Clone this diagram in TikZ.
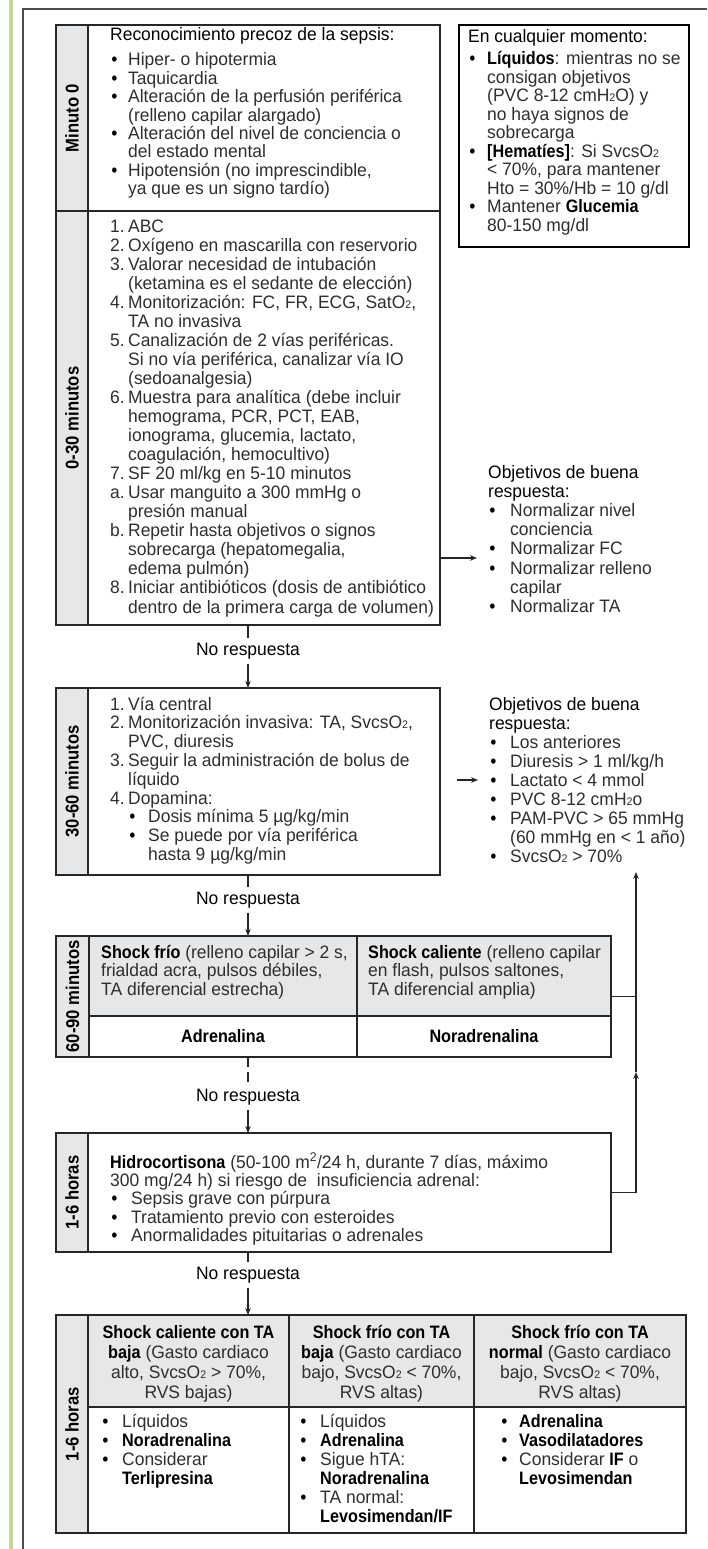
\documentclass[tikz,border=0pt]{standalone}
\usepackage{fontspec}
\setmainfont{Liberation Sans}[FakeStretch=0.97,BoldFeatures={FakeStretch=0.9}]
\usetikzlibrary{arrows.meta}
\definecolor{labgray}{RGB}{230,231,232}
\definecolor{barg}{RGB}{196,215,155}
\lineskiplimit=-50pt
\newcommand\fsz[1]{\fontsize{18}{#1}\selectfont\lineskiplimit=-50pt\lineskip=0pt\relax}
\newcommand\lnum[1]{\makebox[18pt][l]{#1}}
\newcommand\lind[1][18]{\hspace*{#1pt}}
\newcommand\lbul[1][18]{\hspace*{1.5pt}\makebox[#1pt][l]{{\color{black}\bfseries\textbullet}}\hspace*{-1.5pt}}
\newcommand\Bf[1]{{\bfseries\color{black}#1}}
\newcommand\Kt[1]{{\color{black}#1}}
\newcommand\subtwo{{\fontsize{11}{11}\selectfont 2}}
\begin{document}
\begin{tikzpicture}[x=1pt,y=-1pt,
  cell/.style={draw=black!85, line width=1.2pt, inner sep=0pt, outer sep=0pt, anchor=north west},
  gcell/.style={cell, fill=labgray},
  txt/.style={anchor=base west, inner sep=0pt, align=left, text=black!82},
  ctxt/.style={anchor=base, inner sep=0pt, align=center, text=black!82},
  lab/.style={rotate=90, inner sep=0pt, text=black, font=\bfseries\fontsize{18.5}{18.5}\selectfont},
  nr/.style={inner sep=0pt, minimum height=25pt, text height=13pt, text depth=4pt, text=black, font=\fsz{19}},
  conn/.style={draw=black!85, line width=1.2pt},
  arr/.style={-{Stealth[length=7pt,width=5.5pt]}},
]
\fill[white] (0,0) rectangle (707,1549);
\useasboundingbox (0,0) rectangle (707,1549);
\fill[barg] (9,0) rectangle (13,1549);
\draw[black!70, line width=1.3pt] (23,1549) -- (23,9) -- (707,9);

% ---- Box 1: Minuto 0  (text anchored at the baseline of its last line)
\node[gcell, minimum width=32pt, minimum height=186pt] (l1) at (56,25) {};
\node[cell, minimum width=384pt, minimum height=186pt] (b1) at (56,25) {};
\node[lab] (lab1) at (l1.center) {Minuto 0};
\node[txt, font=\fsz{18.4}] (t1) at (110,194.7) {\Kt{Reconocimiento precoz de la sepsis:}\\[6.5pt]
\lbul Hiper- o hipotermia\\
\lbul Taquicardia\\
\lbul Alteración de la perfusión periférica\\
\lind(relleno capilar alargado)\\
\lbul Alteración del nivel de conciencia o\\
\lind del estado mental\\
\lbul Hipotensión (no imprescindible,\\
\lind ya que es un signo tardío)};

% ---- Box 2: 0-30 minutos
\node[gcell, minimum width=32pt, minimum height=414pt] (l2) at (56,211) {};
\node[cell, minimum width=384pt, minimum height=414pt] (b2) at (56,211) {};
\node[lab] (lab2) at (l2.center) {0-30 minutos};
\node[txt, font=\fsz{19.05}] (t2) at (110,613) {\lnum{1.}ABC\\
\lnum{2.}Oxígeno en mascarilla con reservorio\\
\lnum{3.}Valorar necesidad de intubación\\
\lind(ketamina es el sedante de elección)\\
\lnum{4.}Monitorización: FC, FR, ECG, SatO\subtwo,\\
\lind TA no invasiva\\
\lnum{5.}Canalización de 2 vías periféricas.\\
\lind Si no vía periférica, canalizar vía IO\\
\lind(sedoanalgesia)\\
\lnum{6.}Muestra para analítica (debe incluir\\
\lind hemograma, PCR, PCT, EAB,\\
\lind ionograma, glucemia, lactato,\\
\lind coagulación, hemocultivo)\\
\lnum{7.}SF 20 ml/kg en 5-10 minutos\\
\lnum{a.}Usar manguito a 300 mmHg o\\
\lind presión manual\\
\lnum{b.}Repetir hasta objetivos o signos\\
\lind sobrecarga (hepatomegalia,\\
\lind edema pulmón)\\
\lnum{8.}Iniciar antibióticos (dosis de antibiótico\\
\lind dentro de la primera carga de volumen)};

% ---- Box 3: 30-60 minutos
\node[gcell, minimum width=32pt, minimum height=187pt] (l3) at (56,688) {};
\node[cell, minimum width=384pt, minimum height=187pt] (b3) at (56,688) {};
\node[lab] (lab3) at (l3.center) {30-60 minutos};
\node[txt, font=\fsz{18.8}] (t3) at (110,860.4) {\lnum{1.}Vía central\\
\lnum{2.}Monitorización invasiva: TA, SvcsO\subtwo,\\
\lind PVC, diuresis\\
\lnum{3.}Seguir la administración de bolus de\\
\lind líquido\\
\lnum{4.}Dopamina:\\
\lind\lbul[20]Dosis mínima 5 µg/kg/min\\
\lind\lbul[20]Se puede por vía periférica\\
\lind[38]hasta 9 µg/kg/min};

% ---- Right box: En cualquier momento
\node[cell, draw=black, minimum width=230pt, minimum height=222pt] (rb) at (459,25) {};
\node[txt, font=\fsz{18.5}] (t4) at (468,231.2) {\Kt{En cualquier momento:}\\[3.2pt]
\lbul[19]\Bf{Líquidos}: mientras no se\\
\lind[19]consigan objetivos\\
\lind[19](PVC 8-12 cmH\subtwo O) y\\
\lind[19]no haya signos de\\
\lind[19]sobrecarga\\
\lbul[19]\Bf{[Hematíes]}: Si SvcsO\subtwo\\
\lind[19]< 70\%, para mantener\\
\lind[19]Hto = 30\%/Hb = 10 g/dl\\
\lbul[19]Mantener \Bf{Glucemia}\\
\lind[19]80-150 mg/dl};

% ---- Objectives 1
\node[txt, font=\fsz{19.2}] (t5) at (488,612.4) {\Kt{Objetivos de buena}\\
\Kt{respuesta:}\\
\lbul[22]Normalizar nivel\\
\lind[22]conciencia\\
\lbul[22]Normalizar FC\\
\lbul[22]Normalizar relleno\\
\lind[22]capilar\\
\lbul[22]Normalizar TA};
\coordinate (o1in) at (477,558);
\draw[conn, arr] (b2.east |- o1in) -- (o1in);

% ---- Objectives 2
\node[txt, font=\fsz{19}] (t6) at (489,862) {\Kt{Objetivos de buena}\\
\Kt{respuesta:}\\
\lbul[21]Los anteriores\\
\lbul[21]Diuresis > 1 ml/kg/h\\
\lbul[21]Lactato < 4 mmol\\
\lbul[21]PVC 8-12 cmH\subtwo o\\
\lbul[21]PAM-PVC > 65 mmHg\\
\lind[21](60 mmHg en < 1 año)\\
\lbul[21]SvcsO\subtwo{} > 70\%};
\coordinate (o2in) at (478,780);
\draw[conn, arr] ([xshift=17pt]b3.east |- o2in) -- (o2in);

% ---- No respuesta 1 and 2
\node[nr] (nr1) at (248,651) {No respuesta};
\draw[conn] (b2.south) -- (nr1.north);
\draw[conn, arr] (nr1.south) -- (b3.north);
\node[nr] (nr2) at (248,900) {No respuesta};
\draw[conn] (b3.south) -- (nr2.north);

% ---- Box 4: 60-90 minutos
\node[gcell, minimum width=33pt, minimum height=121pt] (l4) at (56,936) {};
\node[gcell, minimum width=268pt, minimum height=80pt] (h4a) at (89,936) {};
\node[gcell, minimum width=254pt, minimum height=80pt] (h4b) at (357,936) {};
\node[cell, minimum width=268pt, minimum height=41pt, font=\fsz{18}, text=black] (d4a) at (89,1016) {\bfseries Adrenalina};
\node[cell, minimum width=254pt, minimum height=41pt, font=\fsz{18}, text=black] (d4b) at (357,1016) {\bfseries Noradrenalina};
\node[cell, minimum width=555pt, minimum height=121pt] (b4) at (56,936) {};
\node[lab] (lab4) at (l4.center) {60-90 minutos};
\node[txt, font=\fsz{18.5}] (t7) at (101,995) {\Bf{Shock frío} (relleno capilar > 2 s,\\
frialdad acra, pulsos débiles,\\
TA diferencial estrecha)};
\node[txt, font=\fsz{18.5}] (t8) at (368,995) {\Bf{Shock caliente} (relleno capilar\\
en flash, pulsos saltones,\\
TA diferencial amplia)};
\draw[conn, arr] (nr2.south) -- (b4.north -| nr2);

% ---- No respuesta 3 (dashed)
\node[nr] (nr3) at (248,1097) {No respuesta};
\draw[conn, dash pattern=on 10pt off 5pt] (b4.south -| nr3) -- (nr3.north);

% ---- Box 5: Hidrocortisona
\node[gcell, minimum width=32pt, minimum height=119pt] (l5) at (56,1133) {};
\node[cell, minimum width=555pt, minimum height=119pt] (b5) at (56,1133) {};
\node[lab] (lab5) at (l5.center) {1-6 horas};
\node[txt, font=\fsz{18.4}] (t9) at (110,1241.6) {\Bf{Hidrocortisona} (50-100 m\textsuperscript{2}/24 h, durante 7 días, máximo\\
300 mg/24 h) si riesgo de\ \ insuficiencia adrenal:\\
\lbul[21]Sepsis grave con púrpura\\
\lbul[21]Tratamiento previo con esteroides\\
\lbul[21]Anormalidades pituitarias o adrenales};
\draw[conn, arr] (nr3.south) -- (b5.north -| nr3);

% ---- Right feedback line
\coordinate (tipA) at (636,872);
\coordinate (tipB) at (636,1072);
\draw[conn, arr] (b5.east) -- (b5.east -| tipB) -- (tipB);
\draw[conn, arr] (tipB) -- (tipA);
\draw[conn] (b4.east) -- (b4.east -| tipA);

% ---- No respuesta 4
\node[nr] (nr4) at (248,1275) {No respuesta};
\draw[conn] (b5.south -| nr4) -- (nr4.north);

% ---- Box 6: 1-6 horas table
\node[gcell, minimum width=32pt, minimum height=218pt] (l6) at (56,1315) {};
\node[gcell, minimum width=201pt, minimum height=92pt] (h6a) at (88,1315) {};
\node[gcell, minimum width=185pt, minimum height=92pt] (h6b) at (289,1315) {};
\node[gcell, minimum width=212pt, minimum height=92pt] (h6c) at (474,1315) {};
\node[cell, minimum width=201pt, minimum height=126pt] (k6a) at (88,1407) {};
\node[cell, minimum width=185pt, minimum height=126pt] (k6b) at (289,1407) {};
\node[cell, minimum width=212pt, minimum height=126pt] (k6c) at (474,1407) {};
\node[cell, minimum width=630pt, minimum height=218pt] (b6) at (56,1315) {};
\node[lab] (lab6) at (l6.center) {1-6 horas};
\draw[conn, arr] (nr4.south) -- (b6.north -| nr4);

\node[ctxt, font=\fsz{20}] (th1) at (188.5,1398) {\Bf{Shock caliente con TA}\\
\Bf{baja} (Gasto cardiaco\\
alto, SvcsO\subtwo{} > 70\%,\\
RVS bajas)};
\node[ctxt, font=\fsz{20}] (th2) at (381.5,1398) {\Bf{Shock frío con TA}\\
\Bf{baja} (Gasto cardiaco\\
bajo, SvcsO\subtwo{} < 70\%,\\
RVS altas)};
\node[ctxt, font=\fsz{20}] (th3) at (580,1398) {\Bf{Shock frío con TA}\\
\Bf{normal} (Gasto cardiaco\\
bajo, SvcsO\subtwo{} < 70\%,\\
RVS altas)};

\node[txt, font=\fsz{19}] (tb1) at (101,1484) {\lbul[21]Líquidos\\
\lbul[21]\Bf{Noradrenalina}\\
\lbul[21]Considerar\\
\lind[21]\Bf{Terlipresina}};
\node[txt, font=\fsz{19}] (tb2) at (299,1522) {\lbul[21]Líquidos\\
\lbul[21]\Bf{Adrenalina}\\
\lbul[21]Sigue hTA:\\
\lind[21]\Bf{Noradrenalina}\\
\lbul[21]TA normal:\\
\lind[21]\Bf{Levosimendan/IF}};
\node[txt, font=\fsz{19}] (tb3) at (500,1484) {\lbul[19]\Bf{Adrenalina}\\
\lbul[19]\Bf{Vasodilatadores}\\
\lbul[19]Considerar \Bf{IF} o\\
\lind[19]\Bf{Levosimendan}};
\end{tikzpicture}
\end{document}
